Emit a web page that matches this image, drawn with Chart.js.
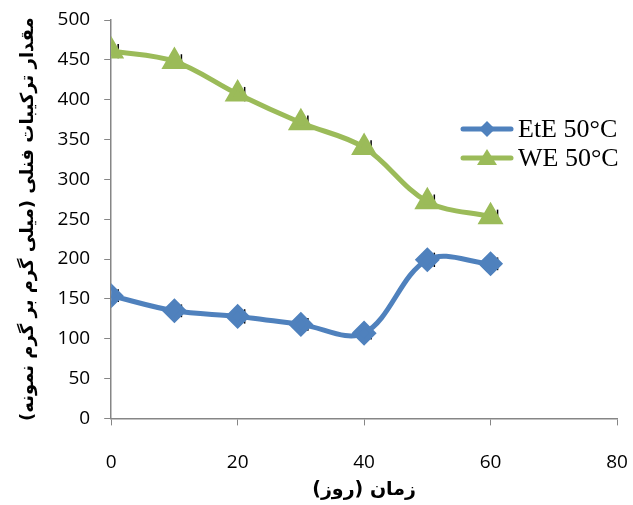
<!DOCTYPE html>
<html>
<head>
<meta charset="utf-8">
<script src="https://cdn.jsdelivr.net/npm/chart.js@4"></script>
<style>
  body { margin: 0; background: #fff; }
  #wrap { width: 633px; height: 505px; }
</style>
</head>
<body>
<div id="wrap"><canvas id="chart"></canvas></div>
<script>
const days = [0, 10, 20, 30, 40, 50, 60]
const eteValues = [154, 135, 128, 118, 107, 199, 194]
const weValues = [461, 448, 407, 371, 340, 272, 253]
const eteErr = [8, 8, 9, 8, 8, 9, 8]
const weErr = [9, 9, 9, 9, 9, 9, 9]
const xTicks = [0, 20, 40, 60, 80]
const seriesNames = ['EtE 50°C', 'WE 50°C']

const blue = '#4F81BD'
const green = '#9BBB59'
const RLM = '\u200F'

// small black error whiskers, mostly hidden behind the markers
const errorBars = {
  id: 'errorBars',
  beforeDatasetsDraw(chart) {
    const { ctx, scales } = chart
    const errs = [eteErr, weErr]
    ctx.save()
    ctx.strokeStyle = '#000'
    ctx.lineWidth = 1.5
    chart.data.datasets.forEach((ds, i) => {
      ds.data.forEach((p, j) => {
        const x = scales.x.getPixelForValue(p.x) + 7
        const y1 = scales.y.getPixelForValue(p.y - errs[i][j])
        const y2 = scales.y.getPixelForValue(p.y + errs[i][j])
        ctx.beginPath()
        ctx.moveTo(x, y1)
        ctx.lineTo(x, y2)
        ctx.stroke()
      })
    })
    ctx.restore()
  }
}

// legend drawn inside the plot on the right, like the original
const sideLegend = {
  id: 'sideLegend',
  afterDraw(chart) {
    const { ctx } = chart
    ctx.save()
    chart.data.datasets.forEach((ds, i) => {
      const y = 129 + i * 29
      ctx.strokeStyle = ds.borderColor
      ctx.lineWidth = 5
      ctx.lineCap = 'round'
      ctx.beginPath()
      ctx.moveTo(463, y)
      ctx.lineTo(511, y)
      ctx.stroke()
      ctx.fillStyle = ds.borderColor
      ctx.beginPath()
      if (ds.pointStyle === 'triangle') {
        ctx.moveTo(487, y - 9)
        ctx.lineTo(497, y + 7)
        ctx.lineTo(477, y + 7)
      } else {
        ctx.moveTo(487, y - 8)
        ctx.lineTo(495, y)
        ctx.lineTo(487, y + 8)
        ctx.lineTo(479, y)
      }
      ctx.closePath()
      ctx.fill()
      ctx.fillStyle = '#000'
      ctx.font = '26px "Liberation Serif"'
      ctx.textBaseline = 'middle'
      ctx.fillText(ds.label, 518, y + 1)
    })
    ctx.restore()
  }
}

const config = {
  type: 'line',
  data: {
    datasets: [
      {
        label: seriesNames[0],
        data: days.map((d, i) => ({ x: d, y: eteValues[i] })),
        borderColor: blue,
        backgroundColor: blue,
        borderWidth: 5,
        pointStyle: 'rectRot',
        pointRadius: 9,
        pointHoverRadius: 9,
        tension: 0.35
      },
      {
        label: seriesNames[1],
        data: days.map((d, i) => ({ x: d, y: weValues[i] })),
        borderColor: green,
        backgroundColor: green,
        borderWidth: 5,
        pointStyle: 'triangle',
        pointRadius: 10,
        pointHoverRadius: 10,
        tension: 0.35
      }
    ]
  },
  options: {
    responsive: true,
    maintainAspectRatio: false,
    animation: false,
    layout: { padding: { top: 20, right: 16, bottom: 4, left: 18 } },
    scales: {
      x: {
        type: 'linear',
        min: 0,
        max: 80,
        afterBuildTicks: (axis) => { axis.ticks = xTicks.map(v => ({ value: v })) },
        afterFit: (axis) => {
          axis.paddingLeft = 0
          axis.paddingRight = 0
          axis.height -= 24
        },
        grid: { drawOnChartArea: false, tickLength: 7, color: '#868686' },
        border: { color: '#868686', width: 1.5 },
        ticks: { padding: 26, color: '#000', font: { family: 'Open Sans', size: 19 } },
        title: {
          display: true,
          text: RLM + 'زمان (روز)' + RLM,
          color: '#000',
          font: { family: 'DejaVu Sans', size: 19, weight: 'bold' },
          padding: { top: 2, bottom: 0 }
        }
      },
      y: {
        min: 0,
        max: 500,
        afterFit: (axis) => { axis.paddingTop = 0; axis.paddingBottom = 0 },
        ticks: { stepSize: 50, padding: 14, color: '#000', font: { family: 'Open Sans', size: 19 } },
        grid: { drawOnChartArea: false, tickLength: 7, color: '#868686' },
        border: { color: '#868686', width: 1.5 },
        title: {
          display: true,
          text: RLM + 'مقدار ترکیبات فنلی (میلی گرم بر گرم نمونه)' + RLM,
          color: '#000',
          font: { family: 'DejaVu Sans', size: 18, weight: 'bold' },
          padding: { top: 0, bottom: 4 }
        }
      }
    },
    plugins: {
      legend: { display: false },
      tooltip: { enabled: false }
    }
  },
  plugins: [errorBars, sideLegend]
}

var myChart = new Chart(document.getElementById('chart'), config)
</script>
</body>
</html>
